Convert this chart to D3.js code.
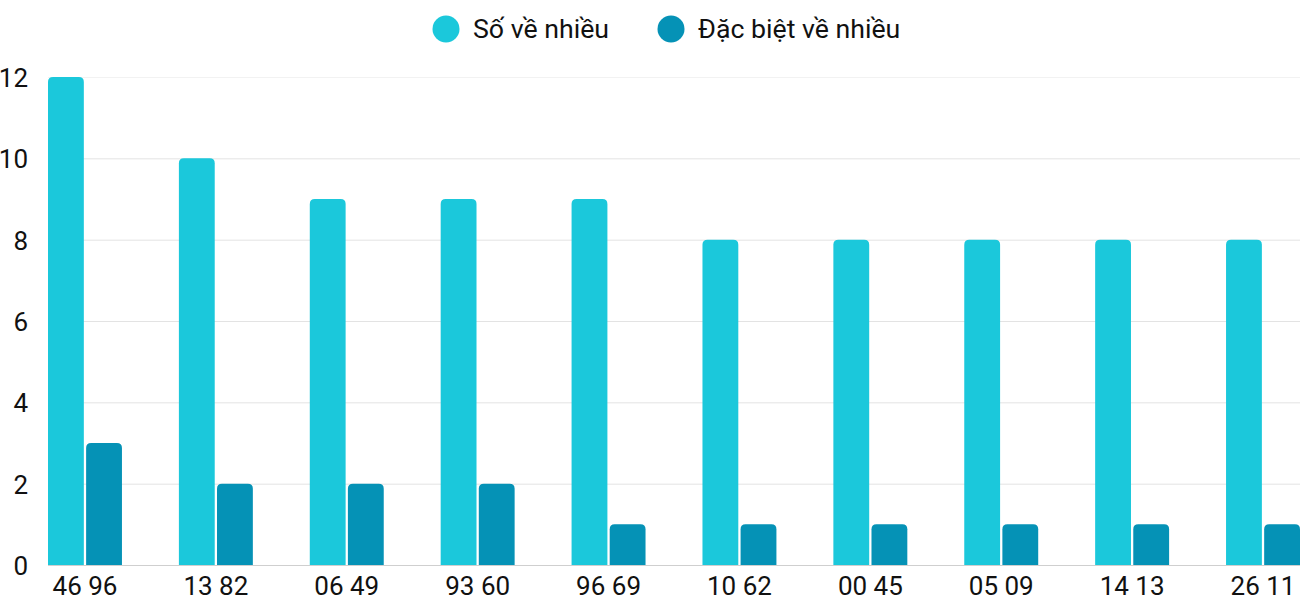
<!DOCTYPE html>
<html><head><meta charset="utf-8">
<script src="https://cdn.jsdelivr.net/npm/d3@7"></script>
<style>body{margin:0;background:#fff}svg{display:block;font-family:Roboto,sans-serif}</style>
</head><body><svg id="c" width="1300" height="600"></svg>
<script>
const categories = ["46 96","13 82","06 49","93 60","96 69","10 62","00 45","05 09","14 13","26 11"];
const seriesNames = ["Số về nhiều","Đặc biệt về nhiều"];
const soVeNhieu = [12,10,9,9,9,8,8,8,8,8];
const dacBietVeNhieu = [3,2,2,2,1,1,1,1,1,1];
const yTicks = [0,2,4,6,8,10,12];
const colors = ["#1bc8db","#0592b6"];

const svg = d3.select("#c");
const x0 = d3.scaleBand().domain(categories).range([48,1300]).paddingInner(0.435).paddingOuter(0);
const x1 = d3.scaleBand().domain([0,1]).range([0,x0.bandwidth()]).paddingInner(0.06);
const y = d3.scaleLinear().domain([0,12]).range([565,77]);

// grid
svg.append("g").selectAll("line").data(yTicks).join("line")
  .attr("x1",48).attr("x2",1300)
  .attr("y1",d=>y(d)+0.5).attr("y2",d=>y(d)+0.5)
  .attr("stroke",d=>d===0?"#cfcfcf":(d===12?"#f2f2f2":"#e3e3e3")).attr("stroke-width",1);

// y labels
svg.append("g").selectAll("text").data(yTicks).join("text")
  .attr("x",28).attr("y",d=>y(d)+1).attr("dy","0.35em").attr("text-anchor","end")
  .attr("font-size",26).attr("fill","#111").text(d=>d);

// bars
function topRounded(x,yt,w,h,r){
  r=Math.min(r,h,w/2);
  return `M${x},${yt+h}V${yt+r}Q${x},${yt} ${x+r},${yt}H${x+w-r}Q${x+w},${yt} ${x+w},${yt+r}V${yt+h}Z`;
}
const data = categories.map((c,i)=>({c,v:[soVeNhieu[i],dacBietVeNhieu[i]]}));
const g = svg.append("g").selectAll("g").data(data).join("g")
  .attr("transform",d=>`translate(${x0(d.c)},0)`);
g.selectAll("path").data(d=>d.v.map((v,k)=>({v,k}))).join("path")
  .attr("d",d=>topRounded(x1(d.k),y(d.v),x1.bandwidth(),y(0)-y(d.v),5))
  .attr("fill",d=>colors[d.k]);

// x labels
svg.append("g").selectAll("text").data(categories).join("text")
  .attr("x",d=>x0(d)+x0.bandwidth()/2).attr("y",586).attr("dy","0.35em")
  .attr("text-anchor","middle").attr("font-size",26).attr("fill","#111").text(d=>d);

// legend
const lg = svg.append("g");
const legendX = [446,671];
seriesNames.forEach((n,i)=>{
  lg.append("circle").attr("cx",legendX[i]).attr("cy",29).attr("r",13.5).attr("fill",colors[i]);
  lg.append("text").attr("x",legendX[i]+27).attr("y",29).attr("dy","0.35em")
    .attr("font-size",26.7).attr("fill","#111").text(n);
});
</script></body></html>
